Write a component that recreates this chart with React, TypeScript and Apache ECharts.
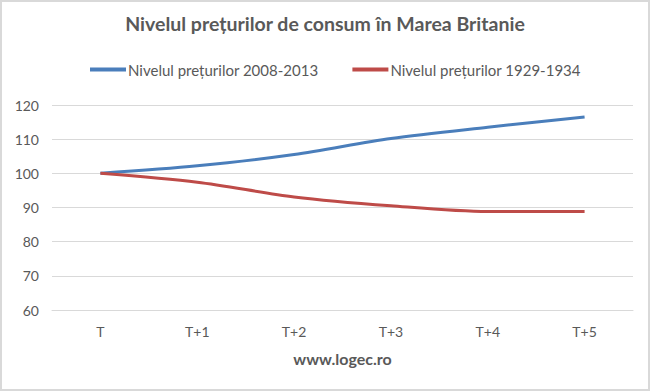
import React, { useEffect, useRef } from "react";
import * as echarts from "echarts";

const categories = ["T", "T+1", "T+2", "T+3", "T+4", "T+5"];
const seriesNames = ["Nivelul prețurilor 2008-2013", "Nivelul prețurilor 1929-1934"];
const prices2008 = [100, 102.2, 105.5, 110.2, 113.5, 116.5];
const prices1929 = [100, 97.4, 93.1, 90.5, 88.8, 88.8];

export default function App() {
  const ref = useRef<HTMLDivElement>(null);
  useEffect(() => {
    if (!ref.current) return;
    const chart = echarts.init(ref.current, undefined, { renderer: "svg" });
    const font = "Lato, 'Noto Sans', sans-serif";
    chart.setOption({
      animation: false,
      backgroundColor: "#ffffff",
      title: {
        text: "Nivelul prețurilor de consum în Marea Britanie",
        left: "center",
        top: 6,
        textStyle: { fontFamily: font, fontSize: 19.5, fontWeight: "bold", color: "#595959" },
      },
      legend: {
        top: 55,
        left: 83,
        itemWidth: 36,
        itemHeight: 4,
        itemGap: 34,
        icon: "rect",
        textStyle: { fontFamily: font, fontSize: 15, color: "#595959", padding: [0, 0, 0, -3] },
        data: seriesNames,
      },
      grid: { left: 50, right: 15, top: 103, bottom: 79 },
      xAxis: {
        type: "category",
        data: categories,
        boundaryGap: true,
        name: "www.logec.ro",
        nameLocation: "middle",
        nameGap: 40,
        nameTextStyle: { fontFamily: font, fontSize: 16, fontWeight: "bold", color: "#595959" },
        axisLine: { show: true, lineStyle: { color: "#d9d9d9" } },
        axisTick: { show: false },
        axisLabel: { fontFamily: font, fontSize: 14, color: "#595959", margin: 14 },
      },
      yAxis: {
        type: "value",
        min: 60,
        max: 120,
        interval: 10,
        axisLine: { show: false },
        axisTick: { show: false },
        axisLabel: { fontFamily: font, fontSize: 14, color: "#595959", margin: 13 },
        splitLine: { lineStyle: { color: "#d9d9d9", width: 1 } },
      },
      series: [
        {
          name: seriesNames[0],
          type: "line",
          data: prices2008,
          smooth: 0.3,
          showSymbol: false,
          symbol: "none",
          lineStyle: { color: "#4a7ebb", width: 3 },
          itemStyle: { color: "#4a7ebb" },
        },
        {
          name: seriesNames[1],
          type: "line",
          data: prices1929,
          smooth: 0.3,
          showSymbol: false,
          symbol: "none",
          lineStyle: { color: "#be4b48", width: 3 },
          itemStyle: { color: "#be4b48" },
        },
      ],
    });
    return () => chart.dispose();
  }, []);
  return (
    <div
      style={{
        position: "fixed",
        left: 0,
        top: 0,
        width: 650,
        height: 391,
        boxSizing: "border-box",
        border: "2px solid #d9d9d9",
        background: "#fff",
      }}
    >
      <div ref={ref} style={{ width: 646, height: 387 }} />
    </div>
  );
}
